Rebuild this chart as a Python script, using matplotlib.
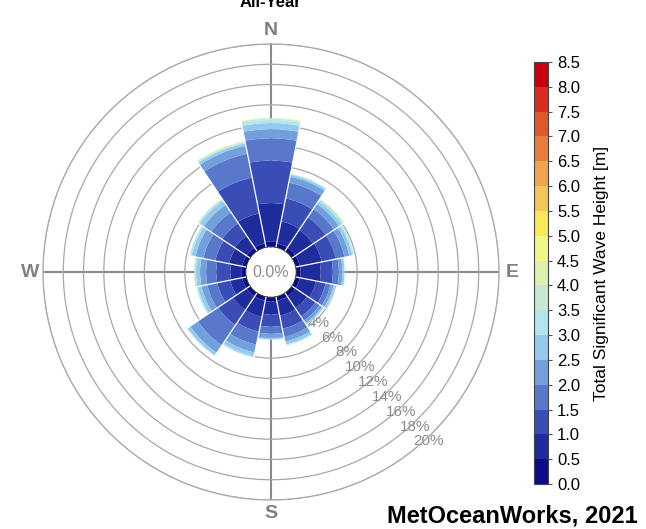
import numpy as np
import matplotlib
matplotlib.use("Agg")
import matplotlib.pyplot as plt
from matplotlib.colors import ListedColormap, BoundaryNorm
from matplotlib.cm import ScalarMappable
from matplotlib.patches import Circle

plt.rcParams["font.family"] = ["Liberation Sans", "DejaVu Sans"]

# direction sectors (clockwise from north)
DIRECTIONS = ["N", "NNE", "NE", "ENE", "E", "ESE", "SE", "SSE",
              "S", "SSW", "SW", "WSW", "W", "WNW", "NW", "NNW"]

# Hs bin edges [m]
HS_EDGES = [0.0, 0.5, 1.0, 1.5, 2.0, 2.5, 3.0, 3.5, 4.0, 4.5, 5.0,
            5.5, 6.0, 6.5, 7.0, 7.5, 8.0, 8.5]

HS_COLORS = ["#0b0b8c", "#1e2c9e", "#3a4db6", "#5878cb", "#72a0dc",
             "#95caee", "#b0e6ee", "#c6e7d0", "#dcf0b0", "#eef884",
             "#f9e95a", "#f3c65a", "#eda54e", "#e77d3a", "#e0572b",
             "#d92b1e", "#c9000c"]

# occurrence [%] per direction, per Hs bin (0-0.5, 0.5-1.0, ...)
FREQ = [
    [0.5, 3.8, 4.2, 2.2, 0.9, 0.6, 0.3, 0.12, 0.08, 0.0],    # N
    [0.4, 2.2, 2.3, 1.6, 0.6, 0.2, 0.08, 0.02, 0.0, 0.0],    # NNE
    [0.4, 2.1, 1.5, 1.0, 0.6, 0.3, 0.15, 0.1, 0.05, 0.0],    # NE
    [0.4, 2.2, 1.4, 0.9, 0.5, 0.3, 0.15, 0.05, 0.0, 0.0],    # ENE
    [0.4, 2.0, 1.2, 0.6, 0.35, 0.2, 0.05, 0.0, 0.0, 0.0],    # E
    [0.4, 1.6, 1.0, 0.5, 0.3, 0.15, 0.05, 0.0, 0.0, 0.0],    # ESE
    [0.4, 1.4, 1.0, 0.5, 0.3, 0.15, 0.05, 0.0, 0.0, 0.0],    # SE
    [0.4, 1.5, 1.3, 0.8, 0.5, 0.3, 0.1, 0.0, 0.0, 0.0],      # SSE
    [0.4, 1.3, 1.2, 0.7, 0.4, 0.15, 0.05, 0.0, 0.0, 0.0],    # S
    [0.4, 1.6, 1.5, 1.3, 0.8, 0.35, 0.15, 0.0, 0.0, 0.0],    # SSW
    [0.4, 1.6, 1.8, 2.4, 0.9, 0.3, 0.1, 0.0, 0.0, 0.0],      # SW
    [0.4, 1.2, 1.3, 1.0, 0.6, 0.35, 0.15, 0.0, 0.0, 0.0],    # WSW
    [0.4, 1.1, 1.4, 1.0, 0.6, 0.4, 0.15, 0.05, 0.0, 0.0],    # W
    [0.4, 1.3, 1.4, 1.2, 0.8, 0.4, 0.15, 0.05, 0.0, 0.0],    # WNW
    [0.4, 1.4, 1.5, 1.3, 0.9, 0.45, 0.15, 0.1, 0.0, 0.0],    # NW
    [0.4, 3.0, 3.6, 2.4, 0.8, 0.25, 0.1, 0.07, 0.05, 0.03],  # NNW
]

RINGS = [2, 4, 6, 8, 10, 12, 14, 16, 18, 20]

freq = np.array(FREQ)
n_dir = len(DIRECTIONS)
theta = np.deg2rad(np.arange(n_dir) * 360.0 / n_dir)
width = np.deg2rad(360.0 / n_dir)

fig = plt.figure(figsize=(6.46, 5.29), dpi=100)
ax = fig.add_axes([0.0665, 0.0548, 0.706, 0.862], projection="polar")
ax.set_theta_zero_location("N")
ax.set_theta_direction(-1)
ax.set_rorigin(-2.5)
ax.set_rlim(0, 20)

bottom = np.zeros(n_dir)
for b in range(freq.shape[1]):
    ax.bar(theta, freq[:, b], width=width, bottom=bottom,
           color=HS_COLORS[b], edgecolor="none", linewidth=0, zorder=2)
    bottom += freq[:, b]

# thin white separators between neighbouring sectors
for i in range(n_dir):
    edge = theta[i] + width / 2
    top = max(bottom[i], bottom[(i + 1) % n_dir])
    ax.plot([edge, edge], [0, top], color="white", linewidth=0.9,
            solid_capstyle="butt", zorder=3)

ax.set_axisbelow(True)
ax.set_rticks(RINGS)
ax.set_yticklabels([])
ax.yaxis.grid(True, color="#a8a8a8", linewidth=0.9)
for r in RINGS:
    ax.text(np.deg2rad(137), r + 0.35, f"{r}%", ha="center", va="center",
            fontsize=11, color="#8c8c8c", zorder=1)
ax.set_xticks(np.deg2rad([0, 90, 180, 270]))
ax.set_xticklabels(["N", "E", "S", "W"])
ax.xaxis.grid(True, color="#8a8a8a", linewidth=1.5)
ax.tick_params(axis="x", pad=-1, labelsize=14, labelcolor="#808080")
for lab in ax.get_xticklabels():
    lab.set_fontweight("bold")
ax.spines["polar"].set_color("#a8a8a8")
ax.spines["polar"].set_linewidth(0.9)
ax.spines["inner"].set_visible(False)

hole = Circle((0.5, 0.5), 0.5 * 2.5 / 22.5, transform=ax.transAxes,
              facecolor="#e6e6e6", edgecolor="none", zorder=4)
ax.add_artist(hole)
ax.text(0.5, 0.5, "0.0%", transform=ax.transAxes, ha="center", va="center",
        fontsize=11.5, color="#8c8c8c", zorder=5)

# colorbar
cax = fig.add_axes([0.8266, 0.085, 0.0217, 0.798])
cmap = ListedColormap(HS_COLORS)
norm = BoundaryNorm(HS_EDGES, cmap.N)
cb = fig.colorbar(ScalarMappable(norm=norm, cmap=cmap), cax=cax, ticks=HS_EDGES)
cb.ax.set_yticklabels([f"{v:.1f}" for v in HS_EDGES])
cb.ax.tick_params(labelsize=12, length=3, color="#555555")
cb.outline.set_linewidth(0.8)
cb.outline.set_edgecolor("#444444")
cb.set_label("Total Significant Wave Height [m]", fontsize=12.5, labelpad=10)

fig.text(0.418, 0.986, "All-Year", ha="center", va="baseline",
         fontsize=12, fontweight="bold")
fig.text(0.988, 0.025, "MetOceanWorks, 2021", ha="right", va="center",
         fontsize=17, fontweight="bold")

fig.savefig("out.png", dpi=100)
